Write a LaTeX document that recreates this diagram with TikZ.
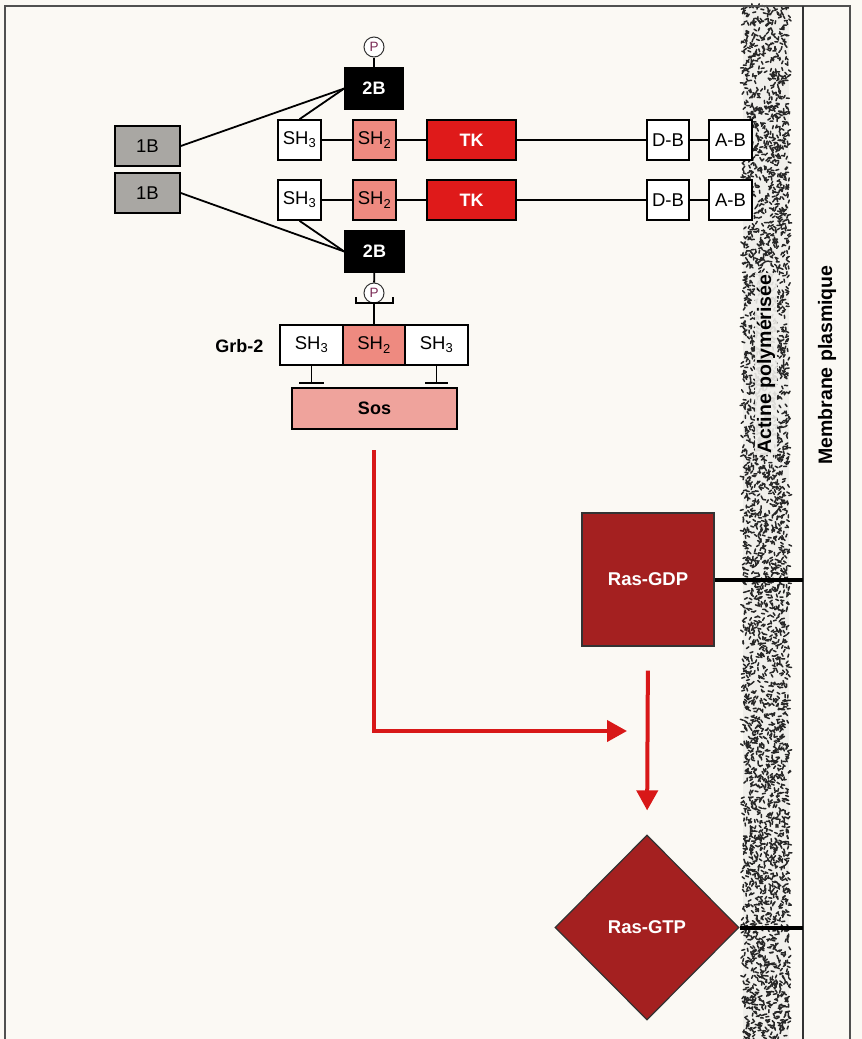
\documentclass[tikz,border=0pt]{standalone}
\usepackage{fontspec}
\setmainfont{Liberation Sans}
\usetikzlibrary{arrows.meta,shapes.geometric,calc}
\definecolor{bg}{HTML}{FBF9F4}
\definecolor{grayB}{HTML}{A9A7A3}
\definecolor{shpink}{HTML}{EE8A80}
\definecolor{sospink}{HTML}{EFA39C}
\definecolor{tkred}{HTML}{DF1A1A}
\definecolor{rasred}{HTML}{A42020}
\definecolor{arrred}{HTML}{D81818}
\definecolor{pcol}{HTML}{7A2A55}
\definecolor{framec}{HTML}{505050}
\definecolor{bandbg}{HTML}{F0EFEB}
\begin{document}
\begin{tikzpicture}[x=1pt,y=-1pt,
  lbl/.style={font=\fontsize{18.5}{18.5}\selectfont},
  dom/.style={draw=black,line width=1.6pt,minimum height=40pt,inner sep=0pt,lbl},
  whitebox/.style={dom,fill=white},
  pinkbox/.style={dom,fill=shpink},
  blackbox/.style={dom,fill=black,text=white,font=\fontsize{18}{18}\selectfont\bfseries},
  redbox/.style={dom,fill=tkred,text=white,font=\fontsize{18}{18}\selectfont\bfseries},
  graybox/.style={dom,fill=grayB},
  pcirc/.style={circle,draw=black!80,line width=1pt,fill=white,minimum size=20pt,inner sep=0pt,text=pcol,font=\fontsize{13.5}{13.5}\selectfont},
  link/.style={line width=1.8pt,draw=black},
  thick link/.style={line width=4pt,draw=black},
  redarrow/.style={line width=4pt,draw=arrred,-{Triangle[length=20pt,width=21pt]}},
  stip/.style={line width=1.5pt,draw=black!85,line cap=round},
  ras/.style={draw=black!80,line width=1.2pt,fill=rasred,text=white,font=\fontsize{18.5}{19}\selectfont\bfseries,inner sep=0pt},
  side/.style={font=\fontsize{19.5}{20}\selectfont\bfseries,rotate=90}
]
\useasboundingbox (0,0) rectangle (862,1039);
\fill[bg] (0,0) rectangle (862,1039);

% actin band
\fill[bandbg] (743,6) rectangle (789,1039);
\pgfmathsetseed{42}
\foreach \i in {1,...,3600}{
  \pgfmathsetmacro{\xx}{743+46*rnd}
  \pgfmathsetmacro{\yy}{6+1033*rnd}
  \pgfmathsetmacro{\aa}{360*rnd}
  \draw[stip] (\xx,\yy) -- ++(\aa:3);
}
\node[side,fill=bandbg,fill opacity=0.9,text opacity=1,inner sep=2pt] (actine) at (766,364) {Actine polymérisée};

% frame and membrane
\coordinate (ftl) at (5,6);
\coordinate (ftr) at (850,6);
\coordinate (fbl) at (5,1039);
\coordinate (fbr) at (850,1039);
\draw[framec,line width=2pt] (fbl) -- (ftl) -- (ftr) -- (fbr);
\coordinate (mtop) at (803,6);
\coordinate (mbot) at (803,1039);
\draw[black!80,line width=2pt] (mtop) -- (mbot);
\node[side] (membrane) at (827,365) {Membrane plasmique};

% receptor row 1
\node[graybox,minimum width=65pt] (b1a) at (147.5,146) {1B};
\node[whitebox,minimum width=43pt] (sh3a) at (299.5,140) {SH\textsubscript{3}};
\node[pinkbox,minimum width=43pt] (sh2a) at (374.5,140) {SH\textsubscript{2}};
\node[redbox,minimum width=89pt] (tka) at (471.5,140) {TK};
\node[whitebox,minimum width=42pt] (dba) at (668,140) {D-B};
\node[whitebox,minimum width=43pt] (aba) at (730.5,140) {A-B};
\node[blackbox,minimum width=58pt,minimum height=41pt] (b2a) at (374,88.5) {2B};
\node[pcirc] (pa) at (374,47) {P};

% receptor row 2
\node[graybox,minimum width=65pt] (b1b) at (147.5,193) {1B};
\node[whitebox,minimum width=43pt] (sh3b) at (299.5,200) {SH\textsubscript{3}};
\node[pinkbox,minimum width=43pt] (sh2b) at (374.5,200) {SH\textsubscript{2}};
\node[redbox,minimum width=89pt] (tkb) at (471.5,200) {TK};
\node[whitebox,minimum width=42pt] (dbb) at (668,200) {D-B};
\node[whitebox,minimum width=43pt] (abb) at (730.5,200) {A-B};
\node[blackbox,minimum width=59pt,minimum height=41pt] (b2b) at (374.5,251.5) {2B};
\node[pcirc] (pb) at (374,293) {P};

\foreach \r in {a,b}{
  \draw[link] (sh3\r) -- (sh2\r);
  \draw[link] (sh2\r) -- (tk\r);
  \draw[link] (tk\r) -- (db\r);
  \draw[link] (db\r) -- (ab\r);
}
\draw[link] (pa) -- (b2a);
\draw[link] (b1a.east) -- (b2a.west);
\draw[link] (sh3a.north) -- (b2a.west);
\draw[link] (b1b.east) -- (b2b.west);
\draw[link] (sh3b.south) -- (b2b.west);
\draw[link] (b2b) -- (pb);

% Grb-2
\node[whitebox,minimum width=63pt] (g1) at (311.5,345) {SH\textsubscript{3}};
\node[pinkbox,minimum width=62pt] (g2) at (374,345) {SH\textsubscript{2}};
\node[whitebox,minimum width=63pt] (g3) at (436.5,345) {SH\textsubscript{3}};
\node[anchor=east,font=\fontsize{18}{18}\selectfont\bfseries] (grb) at (267,346) {Grb-2};

% bracket
\coordinate (brl) at (356,297);
\coordinate (brr) at (393,297);
\coordinate (brc) at (374,303);
\draw[link,line width=1.4pt] (brl) -- (brl |- brc) -- (brr |- brc) -- (brr);
\draw[link,line width=1.4pt] (brc) -- (g2.north);

% Sos
\node[dom,fill=sospink,minimum width=165pt,minimum height=41pt,font=\fontsize{18}{18}\selectfont\bfseries] (sos) at (374.5,408.5) {Sos};
\coordinate (ib1) at (311.5,383);
\coordinate (ib3) at (436.5,383);
\draw[link,line width=1.4pt] (g1.south) -- (ib1);
\draw[link,line width=1.4pt] ($(ib1)+(-12.5,0)$) -- ($(ib1)+(12.5,0)$);
\draw[link,line width=1.4pt] (g3.south) -- (ib3);
\draw[link,line width=1.4pt] ($(ib3)+(-11.5,0)$) -- ($(ib3)+(11.5,0)$);

% Ras
\node[ras,minimum width=132pt,minimum height=133pt] (gdp) at (648,579.5) {Ras-GDP};
\node[ras,diamond,minimum width=184pt,minimum height=185pt] (gtp) at (647,927.5) {Ras-GTP};
\draw[thick link] (gdp.east) -- (gdp.east -| mtop);
\draw[thick link] (gtp.east) -- (gtp.east -| mtop);

% red arrows
\coordinate (r1) at (373.5,450);
\coordinate (r2) at (627,731);
\draw[redarrow] (r1) |- (r2);
\draw[redarrow,shorten <=24pt,shorten >=24pt] (gdp.south) -- (gtp.north);
\end{tikzpicture}
\end{document}
